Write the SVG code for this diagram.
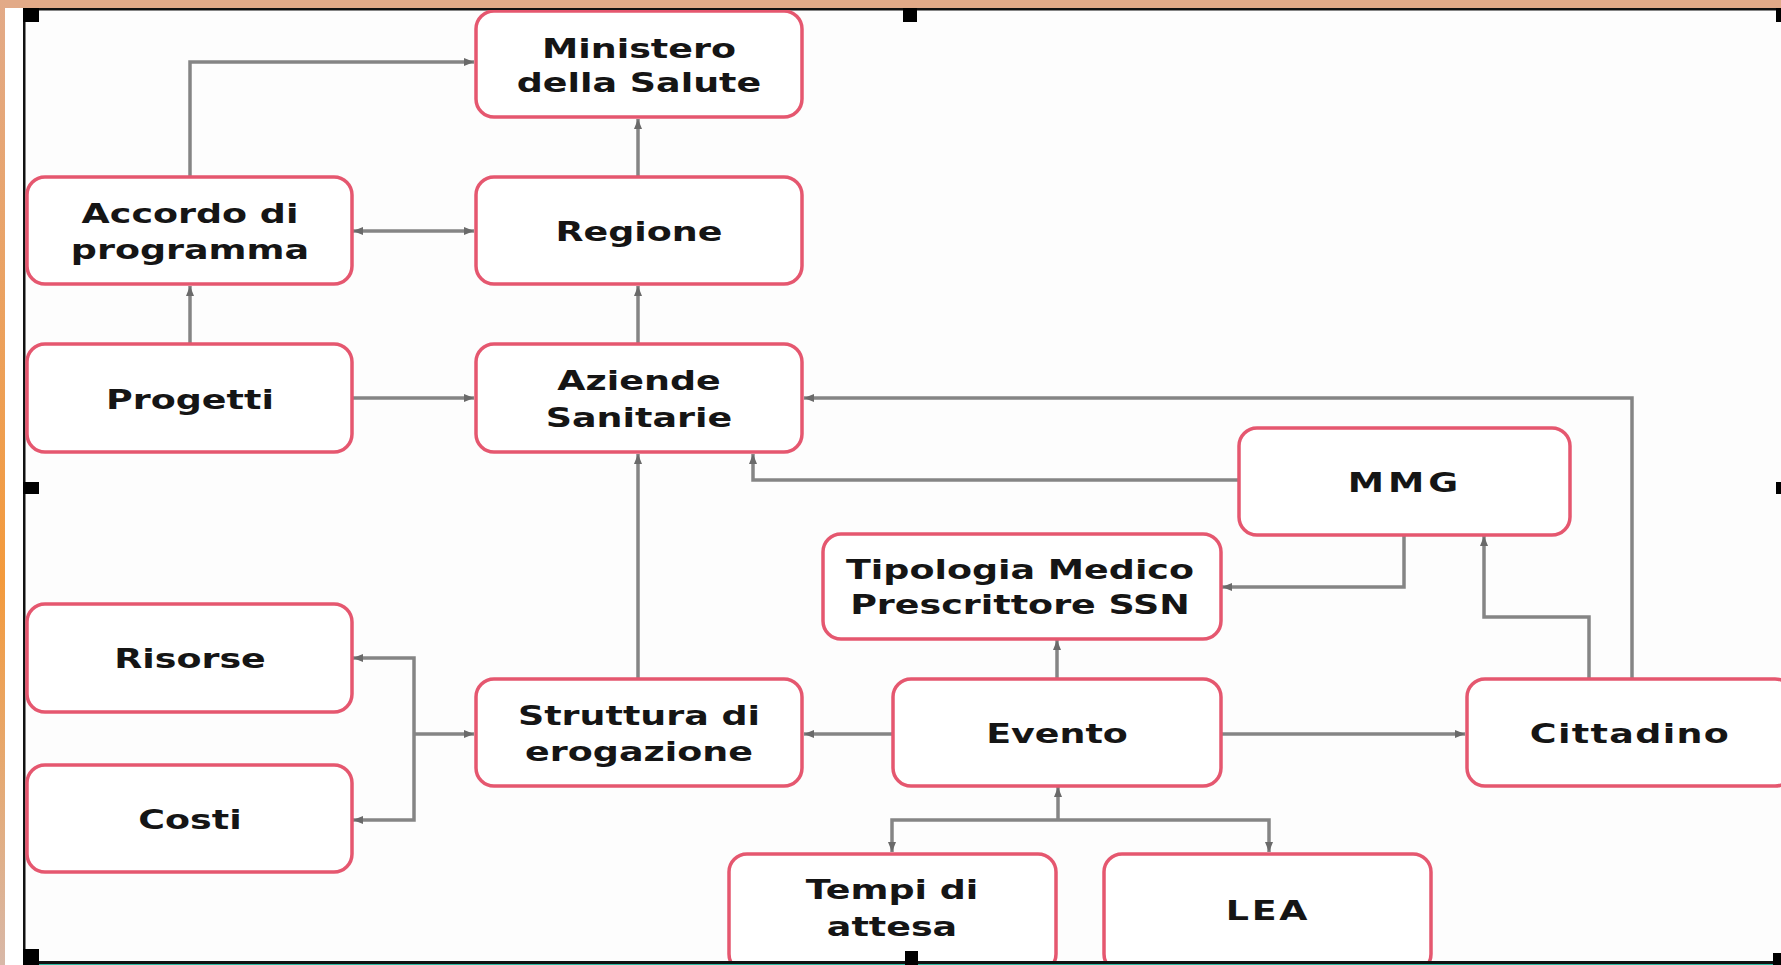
<svg xmlns="http://www.w3.org/2000/svg" width="1781" height="965" viewBox="0 0 1781 965">
<defs>
<linearGradient id="lg" x1="0" y1="0" x2="0" y2="1">
<stop offset="0" stop-color="#e2aa88"/>
<stop offset="0.6" stop-color="#f39a3c"/>
<stop offset="1" stop-color="#d8b8a8"/>
</linearGradient>
<clipPath id="fr"><rect x="25" y="10" width="1756" height="951"/></clipPath>
<marker id="ah" viewBox="0 0 10 10" refX="10" refY="5" markerWidth="11" markerHeight="10" markerUnits="userSpaceOnUse" orient="auto-start-reverse">
<path d="M0,1 L10,5 L0,9 z" fill="#6a6a6a"/>
</marker>
<style>
.bx{fill:#fff;stroke:#e5576f;stroke-width:3.5}
.tx{font-family:"DejaVu Sans","Liberation Sans",sans-serif;font-weight:bold;font-size:27px;fill:#151515;text-anchor:middle}
.cn{fill:none;stroke:#858585;stroke-width:3.5}
.a{marker-end:url(#ah)}
.b{marker-start:url(#ah);marker-end:url(#ah)}
</style>
</defs>
<rect x="0" y="0" width="1781" height="965" fill="#fdfdfd"/>
<rect x="0" y="0" width="1781" height="8" fill="#e2aa88"/>
<rect x="0" y="0" width="5" height="965" fill="url(#lg)"/>
<rect x="5" y="8" width="18" height="957" fill="#ffffff"/>
<rect x="23" y="8" width="2.5" height="957" fill="#111"/>
<rect x="23" y="8" width="1758" height="2.5" fill="#111"/>
<rect x="23" y="961" width="1758" height="3" fill="#111"/>
<rect x="23" y="964" width="1758" height="1" fill="#2ab8a0"/>
<g clip-path="url(#fr)">
<g id="connectors">
<path class="cn a" d="M190,177 V62 H474"/>
<path class="cn b" d="M353,231 H474"/>
<path class="cn a" d="M638,177 V119"/>
<path class="cn a" d="M190,344 V286"/>
<path class="cn a" d="M638,344 V286"/>
<path class="cn a" d="M353,398 H474"/>
<path class="cn a" d="M1632,679 V398 H804"/>
<path class="cn a" d="M1239,480 H753 V454"/>
<path class="cn a" d="M638,679 V454"/>
<path class="cn a" d="M414,734 H474"/>
<path class="cn a" d="M414,734 V658 H353"/>
<path class="cn a" d="M414,734 V820 H353"/>
<path class="cn a" d="M893,734 H804"/>
<path class="cn a" d="M1057,679 V640"/>
<path class="cn a" d="M1404,535 V587 H1222"/>
<path class="cn a" d="M1589,679 V617 H1484 V536"/>
<path class="cn a" d="M1221,734 H1465"/>
<path class="cn a" d="M1058,820 V787"/>
<path class="cn a" d="M1058,820 H892 V852"/>
<path class="cn a" d="M1058,820 H1269 V852"/>
</g>
<g id="n-ministero"><rect class="bx" x="476" y="11" width="326" height="106" rx="18"/>
<text class="tx" transform="translate(639,58) scale(1.35,1)">Ministero</text>
<text class="tx" transform="translate(639,92) scale(1.35,1)">della Salute</text></g>
<g id="n-accordo"><rect class="bx" x="27" y="177" width="325" height="107" rx="18"/>
<text class="tx" transform="translate(190,223) scale(1.35,1)">Accordo di</text>
<text class="tx" transform="translate(190,259) scale(1.35,1)">programma</text></g>
<g id="n-regione"><rect class="bx" x="476" y="177" width="326" height="107" rx="18"/>
<text class="tx" transform="translate(639,241) scale(1.35,1)">Regione</text></g>
<g id="n-progetti"><rect class="bx" x="27" y="344" width="325" height="108" rx="18"/>
<text class="tx" transform="translate(190,409) scale(1.35,1)">Progetti</text></g>
<g id="n-aziende"><rect class="bx" x="476" y="344" width="326" height="108" rx="18"/>
<text class="tx" transform="translate(639,390) scale(1.35,1)">Aziende</text>
<text class="tx" transform="translate(639,427) scale(1.35,1)">Sanitarie</text></g>
<g id="n-mmg"><rect class="bx" x="1239" y="428" width="331" height="107" rx="18"/>
<text class="tx" transform="translate(1405,492) scale(1.35,1)" letter-spacing="3">MMG</text></g>
<g id="n-tipologia"><rect class="bx" x="823" y="534" width="398" height="105" rx="18"/>
<text class="tx" transform="translate(1020,579) scale(1.35,1)">Tipologia  Medico</text>
<text class="tx" transform="translate(1020,614) scale(1.35,1)">Prescrittore SSN</text></g>
<g id="n-risorse"><rect class="bx" x="27" y="604" width="325" height="108" rx="18"/>
<text class="tx" transform="translate(190,668) scale(1.35,1)">Risorse</text></g>
<g id="n-costi"><rect class="bx" x="27" y="765" width="325" height="107" rx="18"/>
<text class="tx" transform="translate(190,829) scale(1.35,1)">Costi</text></g>
<g id="n-struttura"><rect class="bx" x="476" y="679" width="326" height="107" rx="18"/>
<text class="tx" transform="translate(639,725) scale(1.35,1)">Struttura di</text>
<text class="tx" transform="translate(639,761) scale(1.35,1)">erogazione</text></g>
<g id="n-evento"><rect class="bx" x="893" y="679" width="328" height="107" rx="18"/>
<text class="tx" transform="translate(1057,743) scale(1.35,1)">Evento</text></g>
<g id="n-cittadino"><rect class="bx" x="1467" y="679" width="326" height="107" rx="18"/>
<text class="tx" transform="translate(1630,743) scale(1.35,1)" letter-spacing="1">Cittadino</text></g>
<g id="n-tempi"><rect class="bx" x="729" y="854" width="327" height="118" rx="18"/>
<text class="tx" transform="translate(892,899) scale(1.35,1)">Tempi di</text>
<text class="tx" transform="translate(892,936) scale(1.35,1)">attesa</text></g>
<g id="n-lea"><rect class="bx" x="1104" y="854" width="327" height="118" rx="18"/>
<text class="tx" transform="translate(1268,920) scale(1.35,1)" letter-spacing="2">LEA</text></g>
</g>
<g id="handles" fill="#000">
<rect x="23" y="8" width="16" height="14"/>
<rect x="903" y="8" width="14" height="14"/>
<rect x="1776" y="8" width="5" height="14"/>
<rect x="23" y="482" width="16" height="12"/>
<rect x="1776" y="482" width="5" height="12"/>
<rect x="23" y="949" width="16" height="16"/>
<rect x="905" y="951" width="13" height="14"/>
<rect x="1773" y="953" width="8" height="12"/>
</g>
</svg>
